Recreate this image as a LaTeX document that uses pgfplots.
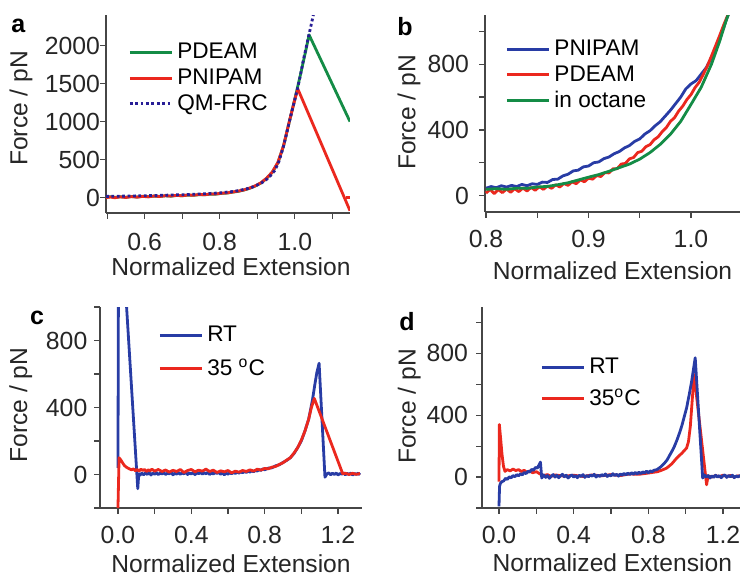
\documentclass[border=0pt]{standalone}
\usepackage{fontspec}
\setmainfont{Liberation Sans}
\usepackage{pgfplots}
\pgfplotsset{compat=1.18}
\definecolor{pgreen}{RGB}{20,140,70}
\definecolor{pred}{RGB}{235,40,30}
\definecolor{pnavy}{RGB}{40,30,150}
\definecolor{pblue}{RGB}{40,60,165}
\definecolor{axgray}{RGB}{70,70,70}
\pgfplotsset{
  panel/.style={
    scale only axis, axis lines=left,
    axis line style={-, draw=axgray, line width=0.6pt},
    tick align=outside, tick style={axgray, line width=0.6pt},
    major tick length=2.8pt, minor tick length=2.8pt,
    every tick label/.append style={font=\fontsize{12.4}{14}\selectfont, text=black!85},
    label style={font=\fontsize{12.3}{14}\selectfont, text=black!85},
    /pgf/number format/assume math mode=true,
    yticklabel style={/pgf/number format/1000 sep={}},
    xticklabel style={/pgf/number format/fixed, /pgf/number format/fixed zerofill, /pgf/number format/precision=1},
    xlabel={Normalized Extension}, ylabel={Force / pN},
    legend style={draw=none, fill=none, font=\fontsize{11.3}{13}\selectfont,
      anchor=north west, inner sep=0pt},
    legend cell align=left,
    legend image code/.code={\draw[line width=1.5pt,##1,line cap=butt] (0pt,0pt) -- (21pt,0pt);},
    every axis plot/.append style={line width=1.4pt, line join=round},
  },
}
\begin{document}
\begin{tikzpicture}
\useasboundingbox (0,0) rectangle (370pt,287.5pt);

%% panel a
\begin{axis}[panel, at={(53pt,181pt)}, anchor=south west, width=122pt, height=99pt,
  xmin=0.497, xmax=1.147, ymin=-200, ymax=2400,
  xtick={0.6,0.8,1.0}, minor xtick={0.5,0.7,0.9,1.1},
  ytick={0,500,1000,1500,2000},
  xticklabel style={yshift=-3.7pt}, yticklabel style={xshift=3.3pt},
  xlabel style={at={(axis description cs:0.512,-0.273)}, anchor=center},
  ylabel style={at={(axis description cs:-0.348,0.528)}, anchor=center},
  legend style={at={(axis description cs:0.09,0.879)}, row sep=-0.5pt}]
\addplot[pgreen] coordinates {(0.497,8)(0.51,14)(0.52,5)(0.535,13)(0.55,7)(0.565,16)(0.58,10)(0.595,19)(0.61,14)(0.625,22)(0.64,17)(0.655,26)(0.67,21)(0.685,30)(0.70,27)(0.715,35)(0.73,32)(0.745,41)(0.76,39)(0.775,48)(0.79,48)(0.805,58)(0.82,62)(0.835,74)(0.85,85)(0.865,102)(0.88,125)(0.895,155)(0.91,195)(0.925,255)(0.94,335)(0.955,460)(0.97,680)(0.985,990)(1.0,1295)(1.015,1615)(1.03,1950)(1.038,2140)(1.147,1000)};
\addlegendentry{PDEAM}
\addplot[pred] coordinates {(0.497,2)(0.51,10)(0.52,0)(0.535,12)(0.55,4)(0.565,15)(0.58,8)(0.595,18)(0.61,12)(0.625,23)(0.64,16)(0.655,27)(0.67,22)(0.685,32)(0.70,26)(0.715,37)(0.73,33)(0.745,43)(0.76,40)(0.775,50)(0.79,50)(0.805,60)(0.82,64)(0.835,76)(0.85,88)(0.865,104)(0.88,128)(0.895,158)(0.91,198)(0.925,258)(0.94,338)(0.955,465)(0.97,685)(0.985,995)(1.0,1290)(1.008,1430)(1.147,-170)};
\addlegendentry{PNIPAM}
\addplot[pred, forget plot] coordinates {(1.136,5)(1.15,5)};
\addplot[pnavy, dash pattern=on 1.4pt off 1.3pt] coordinates {(0.497,18)(0.55,22)(0.60,27)(0.65,33)(0.70,40)(0.75,50)(0.80,64)(0.84,85)(0.87,115)(0.89,145)(0.91,190)(0.93,260)(0.947,360)(0.958,480)(0.969,660)(0.977,820)(0.985,990)(0.993,1150)(1.0,1290)(1.007,1430)(1.015,1610)(1.022,1790)(1.03,1970)(1.038,2150)(1.044,2280)(1.052,2460)};
\addlegendentry{QM-FRC}
\end{axis}

%% panel b
\begin{axis}[panel, at={(242.5pt,181.5pt)}, anchor=south west, width=128.6pt, height=98.5pt,
  xmin=0.799, xmax=1.05, ymin=-100, ymax=1100,
  xtick={0.8,0.9,1.0}, minor xtick={0.85,0.95},
  ytick={0,400,800}, minor ytick={200,600,1000},
  xticklabel style={yshift=-2.7pt}, yticklabel style={xshift=-1.7pt},
  xlabel style={at={(axis description cs:0.496,-0.298)}, anchor=center},
  ylabel style={at={(axis description cs:-0.295,0.505)}, anchor=center},
  legend style={at={(axis description cs:0.078,0.895)}, row sep=-0.5pt}]
\addplot[pblue] coordinates {(0.800,45)(0.805,55)(0.810,48)(0.815,60)(0.820,52)(0.825,62)(0.830,55)(0.835,68)(0.840,60)(0.845,72)(0.850,68)(0.855,82)(0.860,80)(0.865,98)(0.870,100)(0.875,120)(0.880,130)(0.885,150)(0.890,155)(0.895,175)(0.900,180)(0.905,200)(0.910,205)(0.915,225)(0.920,235)(0.925,255)(0.930,268)(0.935,290)(0.940,305)(0.945,330)(0.950,345)(0.955,375)(0.960,395)(0.965,425)(0.970,450)(0.975,485)(0.980,520)(0.985,560)(0.990,600)(0.995,650)(1.000,680)(1.005,700)(1.010,740)(1.015,780)(1.020,840)(1.025,910)(1.030,990)(1.035,1080)(1.040,1160)};
\addlegendentry{PNIPAM}
\addplot[pred] coordinates {(0.800,15)(0.804,38)(0.808,12)(0.812,36)(0.816,18)(0.820,40)(0.824,20)(0.828,42)(0.832,24)(0.836,46)(0.840,28)(0.844,50)(0.848,32)(0.852,54)(0.856,38)(0.860,58)(0.864,44)(0.868,66)(0.872,52)(0.876,74)(0.880,62)(0.884,84)(0.888,72)(0.892,96)(0.896,84)(0.900,106)(0.904,100)(0.908,122)(0.912,116)(0.916,140)(0.920,138)(0.924,164)(0.928,164)(0.932,192)(0.936,196)(0.940,224)(0.944,232)(0.948,262)(0.952,270)(0.956,298)(0.960,310)(0.964,340)(0.968,358)(0.972,390)(0.976,415)(0.980,452)(0.984,475)(0.988,515)(0.992,545)(0.996,585)(1.000,615)(1.004,658)(1.008,690)(1.012,738)(1.016,790)(1.020,850)(1.024,912)(1.028,975)(1.032,1040)(1.036,1100)(1.038,1130)};
\addlegendentry{PDEAM}
\addplot[pgreen] coordinates {(0.800,38)(0.810,42)(0.820,38)(0.830,45)(0.840,44)(0.850,52)(0.860,56)(0.870,66)(0.880,78)(0.890,95)(0.900,112)(0.910,128)(0.920,148)(0.930,170)(0.940,192)(0.950,222)(0.960,262)(0.970,312)(0.980,374)(0.990,452)(1.000,555)(1.010,660)(1.020,800)(1.028,940)(1.034,1060)(1.038,1130)};
\addlegendentry{in octane}
\end{axis}

%% panel c
\begin{axis}[panel, at={(50pt,33.5pt)}, anchor=south west, width=131pt, height=100.5pt,
  xmin=-0.098, xmax=1.331, ymin=-200, ymax=1000,
  xtick={0,0.4,0.8,1.2}, minor xtick={0.2,0.6,1.0},
  ytick={0,400,800}, minor ytick={-200,200,600,1000},
  xticklabel style={yshift=-2.7pt},
  xlabel style={at={(axis description cs:0.5,-0.278)}, anchor=center},
  ylabel style={at={(axis description cs:-0.302,0.512)}, anchor=center},
  legend style={at={(axis description cs:0.221,0.926)}, row sep=3pt}]
\addplot[pblue] coordinates {(0,40)(0.004,1760)(0.047,1000)(0.108,-85)(0.112,-20)(0.116,5)(0.12,-4)(0.13,8)(0.14,-2)(0.15,10)(0.16,0)(0.17,12)(0.18,-3)(0.19,8)(0.20,2)(0.21,11)(0.22,-1)(0.23,9)(0.24,3)(0.25,12)(0.26,0)(0.27,8)(0.28,4)(0.29,13)(0.30,-2)(0.31,9)(0.32,2)(0.33,12)(0.34,1)(0.35,10)(0.36,4)(0.37,14)(0.38,0)(0.39,9)(0.40,3)(0.41,12)(0.42,-1)(0.43,10)(0.44,5)(0.45,14)(0.46,2)(0.47,11)(0.48,4)(0.49,13)(0.50,0)(0.51,9)(0.52,3)(0.53,12)(0.54,6)(0.55,14)(0.56,1)(0.57,10)(0.58,-2)(0.59,8)(0.60,2)(0.61,11)(0.62,4)(0.63,13)(0.64,6)(0.65,15)(0.66,8)(0.67,17)(0.68,10)(0.69,19)(0.70,12)(0.71,21)(0.72,14)(0.73,23)(0.74,16)(0.75,26)(0.76,20)(0.77,30)(0.78,24)(0.79,34)(0.80,28)(0.82,38)(0.84,40)(0.86,52)(0.88,58)(0.90,72)(0.92,84)(0.94,100)(0.96,125)(0.98,160)(1.00,200)(1.02,260)(1.04,330)(1.06,440)(1.075,545)(1.085,610)(1.097,664)(1.129,-16)(1.14,4)(1.15,10)(1.16,-2)(1.17,8)(1.18,0)(1.19,9)(1.20,-3)(1.21,6)(1.22,2)(1.23,10)(1.24,-2)(1.25,7)(1.26,0)(1.27,9)(1.28,-3)(1.29,6)(1.30,1)(1.31,8)(1.32,-2)};
\addlegendentry{RT}
\addplot[pred] coordinates {(0,-200)(0.006,100)(0.015,88)(0.025,70)(0.035,54)(0.045,44)(0.055,38)(0.065,32)(0.075,28)(0.085,34)(0.095,22)(0.105,30)(0.115,20)(0.125,32)(0.135,24)(0.145,30)(0.155,18)(0.165,28)(0.175,22)(0.185,32)(0.20,20)(0.22,30)(0.24,18)(0.26,27)(0.28,14)(0.30,25)(0.32,18)(0.34,30)(0.36,12)(0.38,24)(0.40,30)(0.42,16)(0.44,26)(0.46,20)(0.48,32)(0.50,18)(0.52,26)(0.54,12)(0.56,22)(0.58,16)(0.60,24)(0.62,10)(0.64,20)(0.66,14)(0.68,24)(0.70,18)(0.72,28)(0.74,20)(0.76,32)(0.78,26)(0.80,36)(0.82,34)(0.84,44)(0.86,48)(0.88,60)(0.90,70)(0.92,86)(0.94,100)(0.96,128)(0.98,160)(1.00,205)(1.02,260)(1.04,330)(1.055,400)(1.071,454)(1.226,4)(1.24,8)(1.26,0)(1.28,7)(1.30,1)(1.32,6)};
\addlegendentry{35 \textsuperscript{o}C}
\end{axis}

%% panel d
\begin{axis}[panel, at={(241pt,33.5pt)}, anchor=south west, width=129.85pt, height=100.5pt,
  xmin=-0.091, xmax=1.30, ymin=-200, ymax=1100,
  xtick={0,0.4,0.8,1.2}, minor xtick={0.2,0.6,1.0},
  ytick={0,400,800}, minor ytick={-200,200,600,1000},
  xticklabel style={yshift=-2.7pt}, yticklabel style={xshift=-0.7pt},
  xlabel style={at={(axis description cs:0.502,-0.274)}, anchor=center},
  ylabel style={at={(axis description cs:-0.280,0.505)}, anchor=center},
  reverse legend,
  legend style={at={(axis description cs:0.223,0.766)}, row sep=2pt}]
\addplot[pred] coordinates {(0,-30)(0.002,340)(0.008,260)(0.016,150)(0.024,70)(0.032,37)(0.045,48)(0.06,40)(0.075,52)(0.09,42)(0.105,48)(0.12,36)(0.135,44)(0.15,30)(0.165,40)(0.18,28)(0.20,35)(0.22,20)(0.24,10)(0.26,16)(0.28,4)(0.30,14)(0.35,6)(0.40,12)(0.45,4)(0.50,14)(0.55,8)(0.60,16)(0.65,10)(0.70,20)(0.75,18)(0.80,26)(0.85,35)(0.875,46)(0.898,58)(0.925,85)(0.952,123)(0.98,155)(1.005,188)(1.015,230)(1.025,330)(1.032,448)(1.04,580)(1.045,664)(1.112,-50)(1.12,8)(1.14,0)(1.16,10)(1.18,2)(1.20,12)(1.22,4)(1.24,10)(1.26,0)(1.28,8)(1.30,4)};
\addlegendentry{35\textsuperscript{o}C}
\addplot[pblue] coordinates {(0,-190)(0.003,-60)(0.008,-40)(0.015,-30)(0.025,-25)(0.035,-8)(0.045,-15)(0.055,2)(0.065,-5)(0.075,10)(0.085,2)(0.095,16)(0.105,8)(0.115,22)(0.125,14)(0.135,30)(0.145,22)(0.155,38)(0.165,32)(0.175,50)(0.185,44)(0.195,62)(0.205,58)(0.215,80)(0.222,97)(0.229,-6)(0.24,14)(0.25,-2)(0.26,10)(0.27,-8)(0.28,6)(0.29,16)(0.30,0)(0.31,12)(0.32,-4)(0.33,8)(0.34,18)(0.35,2)(0.36,12)(0.37,-6)(0.38,6)(0.39,14)(0.40,0)(0.41,10)(0.42,-4)(0.43,12)(0.44,4)(0.45,16)(0.46,-2)(0.47,10)(0.48,2)(0.49,14)(0.50,6)(0.51,18)(0.52,0)(0.53,12)(0.54,4)(0.55,16)(0.56,8)(0.57,20)(0.58,4)(0.59,14)(0.60,8)(0.61,22)(0.62,10)(0.63,18)(0.64,6)(0.65,20)(0.66,12)(0.67,24)(0.68,14)(0.69,26)(0.70,16)(0.71,28)(0.72,18)(0.73,30)(0.74,20)(0.75,32)(0.76,22)(0.77,34)(0.78,26)(0.79,38)(0.80,28)(0.81,40)(0.82,34)(0.83,44)(0.845,48)(0.86,60)(0.87,70)(0.885,88)(0.90,110)(0.916,145)(0.93,175)(0.94,200)(0.955,245)(0.97,296)(0.98,335)(0.99,380)(1.005,448)(1.02,540)(1.032,620)(1.042,700)(1.051,772)(1.091,-6)(1.10,14)(1.11,0)(1.12,10)(1.13,-6)(1.14,8)(1.15,-2)(1.16,12)(1.17,0)(1.18,10)(1.19,-4)(1.20,8)(1.21,14)(1.22,-2)(1.23,10)(1.24,2)(1.25,12)(1.26,-4)(1.27,8)(1.28,0)(1.29,10)(1.30,2)};
\addlegendentry{RT}
\end{axis}

\node[font=\bfseries\fontsize{12.5}{14}\selectfont] at (9.2pt,274.5pt) {a};
\node[font=\bfseries\fontsize{12.5}{14}\selectfont] at (202.5pt,274pt) {b};
\node[font=\bfseries\fontsize{12.5}{14}\selectfont] at (18.5pt,128.5pt) {c};
\node[font=\bfseries\fontsize{12.5}{14}\selectfont] at (203.5pt,126.5pt) {d};
\end{tikzpicture}
\end{document}
